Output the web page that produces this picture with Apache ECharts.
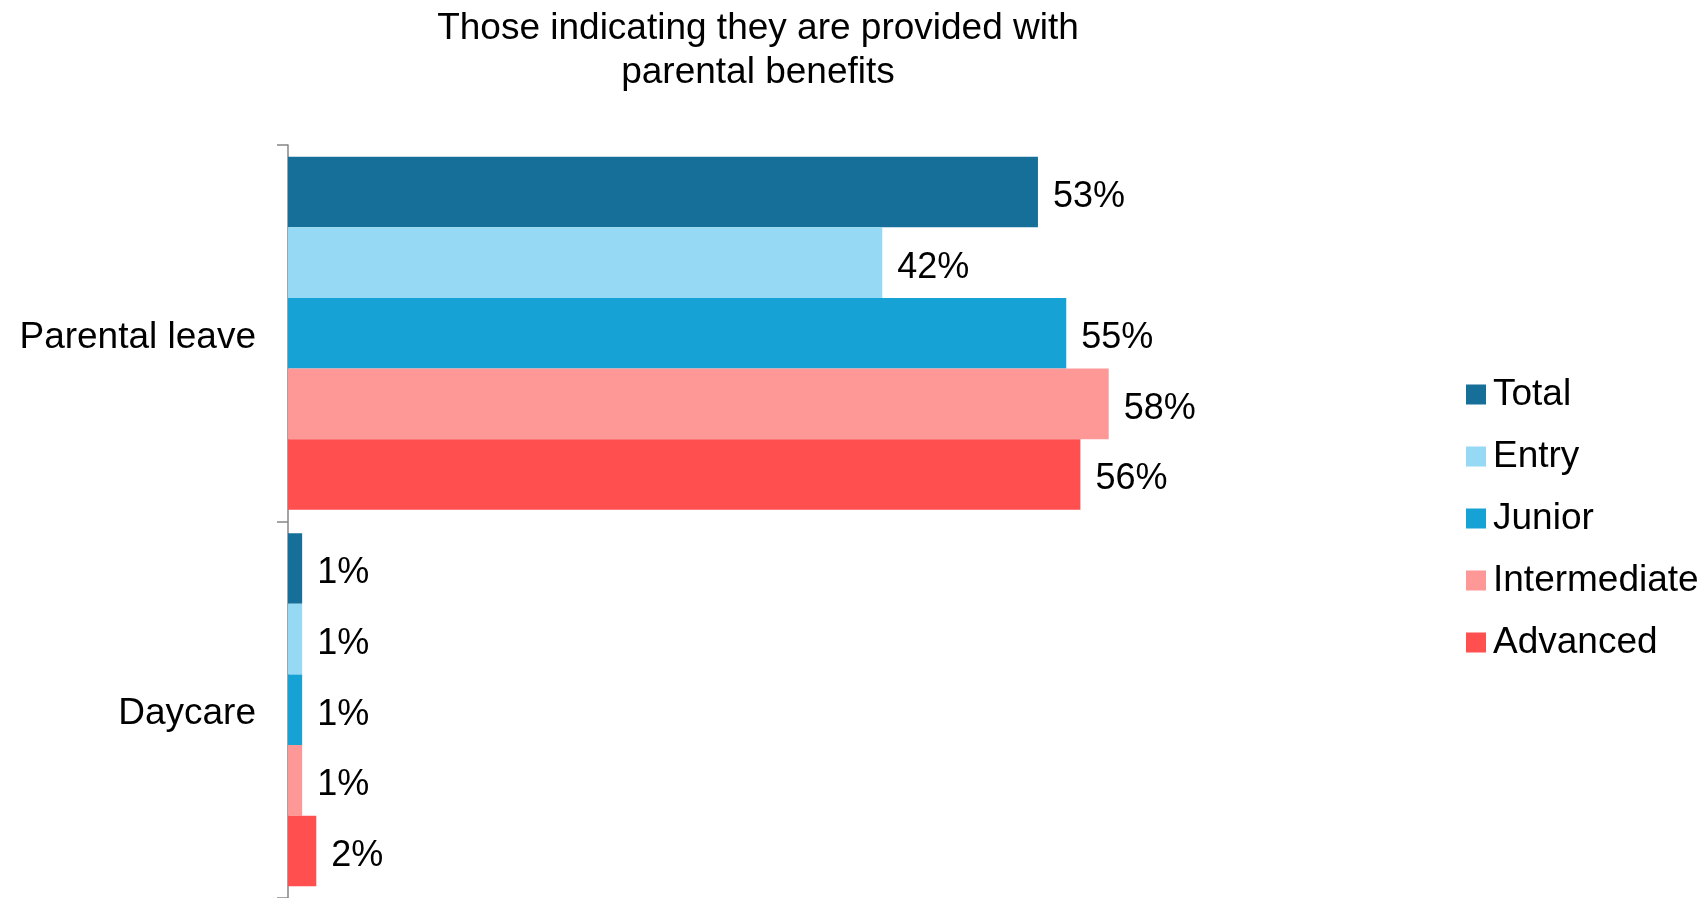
<!DOCTYPE html>
<html>
<head>
<meta charset="utf-8">
<script src="https://cdn.jsdelivr.net/npm/echarts@6/dist/echarts.min.js"></script>
<style>
html,body{margin:0;padding:0;background:#fff;}
#chart{width:1704px;height:898px;}
</style>
</head>
<body>
<div id="chart"></div>
<script>
const categories = ['Parental leave', 'Daycare'];
const seriesNames = ['Total', 'Entry', 'Junior', 'Intermediate', 'Advanced'];
const totalValues = [53, 1];
const entryValues = [42, 1];
const juniorValues = [55, 1];
const intermediateValues = [58, 1];
const advancedValues = [56, 2];
const colors = ['#156F98', '#95D9F4', '#17A2D6', '#FE9897', '#FF4F4F'];
const titleText = 'Those indicating they are provided with\nparental benefits';

const allValues = [totalValues, entryValues, juniorValues, intermediateValues, advancedValues];

const chart = echarts.init(document.getElementById('chart'));
chart.setOption({
  animation: false,
  backgroundColor: '#fff',
  title: {
    text: titleText,
    left: 753,
    textAlign: 'center',
    top: 2,
    textStyle: {
      fontFamily: '"Liberation Sans", Arial, sans-serif',
      fontSize: 37,
      fontWeight: 'normal',
      color: '#000',
      lineHeight: 44
    }
  },
  legend: {
    orient: 'vertical',
    left: 1461,
    top: 371,
    itemWidth: 20,
    itemHeight: 20,
    itemGap: 25,
    icon: 'rect',
    data: seriesNames,
    textStyle: {
      fontFamily: '"Liberation Sans", Arial, sans-serif',
      fontSize: 37,
      lineHeight: 37,
      color: '#000',
      padding: [0, 0, 0, 2]
    }
  },
  grid: {
    left: 288,
    top: 145,
    width: 1132,
    height: 755
  },
  xAxis: {
    type: 'value',
    min: 0,
    max: 80,
    show: false,
    splitLine: { show: false }
  },
  yAxis: {
    type: 'category',
    inverse: true,
    data: categories,
    axisLine: { show: true, lineStyle: { color: '#868686', width: 1.5 } },
    axisTick: { show: true, length: 11, lineStyle: { color: '#868686', width: 1.5 } },
    axisLabel: {
      margin: 32,
      formatter: '{a|{value}}',
      rich: {
        a: {
          fontFamily: '"Liberation Sans", Arial, sans-serif',
          fontSize: 37,
          color: '#000',
          padding: [9, 0, 0, 0]
        }
      }
    }
  },
  series: seriesNames.map((name, i) => ({
    name: name,
    type: 'bar',
    data: allValues[i],
    barGap: '0%',
    barCategoryGap: '6.2%',
    itemStyle: { color: colors[i] },
    label: {
      show: true,
      position: 'right',
      distance: 15,
      offset: [0, 5],
      formatter: '{c}%',
      fontFamily: '"Liberation Sans", Arial, sans-serif',
      fontSize: 36,
      color: '#000'
    }
  }))
});
</script>
</body>
</html>
